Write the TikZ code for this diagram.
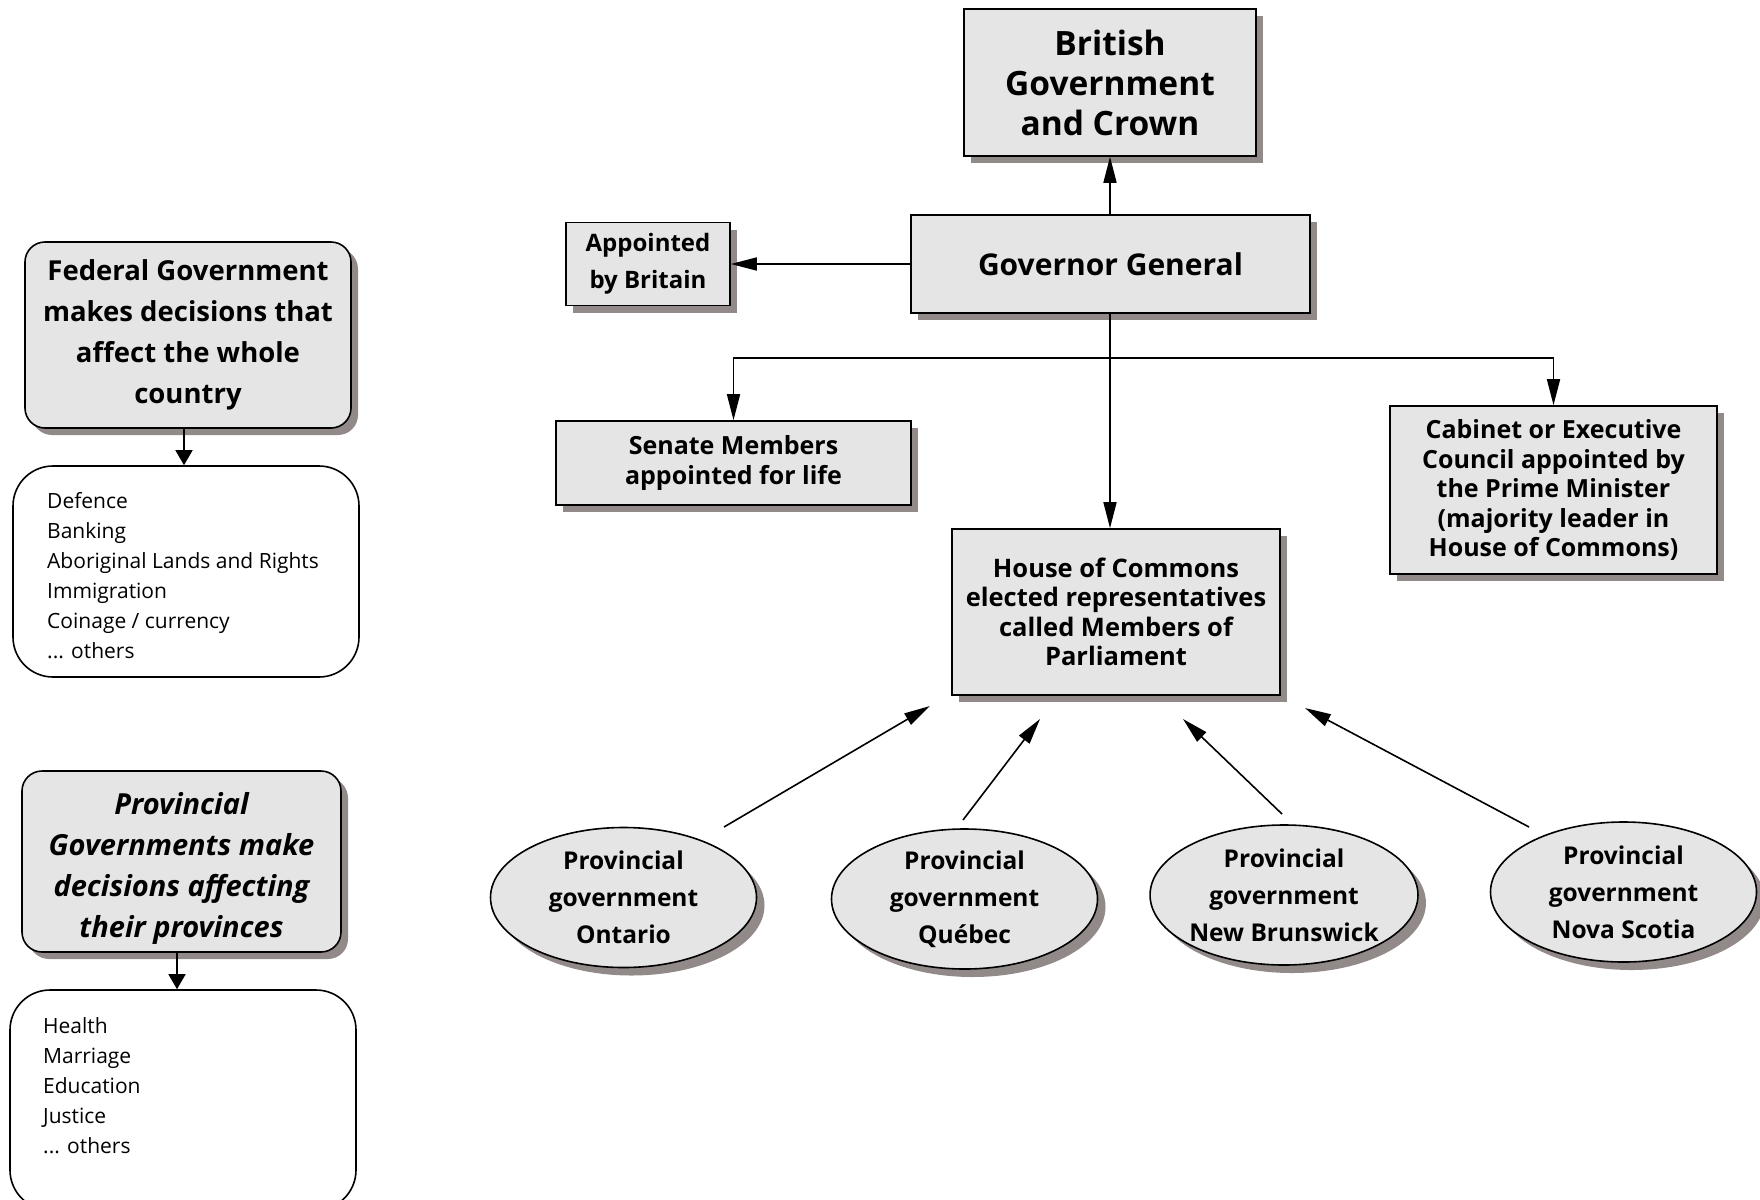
\documentclass[tikz,border=0pt]{standalone}
\usepackage{fontspec}
\setmainfont{Open Sans}
\usetikzlibrary{arrows.meta,shapes.geometric,shadows}
\definecolor{boxfill}{RGB}{230,229,229}
\definecolor{shadowc}{RGB}{146,137,137}
\begin{document}
\begin{tikzpicture}[x=1pt,y=-1pt,
  shad/.style={drop shadow={shadow xshift=#1, shadow yshift=-#1, fill=shadowc, opacity=1}},
  box/.style={draw, line width=1.6pt, fill=boxfill, inner sep=0pt, align=center, shad=7pt},
  rbox/.style={box, rounded corners=20pt, shad=6pt},
  listbox/.style={draw, line width=1.6pt, fill=white, rounded corners=40pt, inner sep=0pt},
  prov/.style={draw, line width=1.6pt, fill=boxfill, ellipse, inner sep=0pt, align=center,
    minimum width=266pt, minimum height=140pt, shad=8pt,
    font=\fontsize{24.5}{37}\selectfont\bfseries},
  arr/.style={line width=1.6pt, -{Triangle[length=26pt,width=13pt]}},
  sarr/.style={line width=1.6pt, -{Triangle[length=15pt,width=17pt]}},
  listtxt/.style={anchor=north west, inner sep=0pt, align=left, font=\fontsize{21}{30}\selectfont}
]
\useasboundingbox (0,0) rectangle (1760,1199);

% right tree
\node[box, minimum width=292pt, minimum height=147pt, font=\fontsize{33.5}{40}\selectfont\bfseries]
  (brit) at (1110,82.5) {British\\Government\\and Crown};
\node[box, minimum width=399pt, minimum height=98pt, font=\fontsize{30}{34}\selectfont\bfseries]
  (gg) at (1110.5,264) {Governor General};
\node[box, minimum width=164pt, minimum height=83pt, font=\fontsize{24}{37}\selectfont\bfseries]
  (appt) at (648,264) {Appointed\\by Britain};
\node[box, minimum width=355pt, minimum height=84pt, font=\fontsize{25}{29.5}\selectfont\bfseries]
  (sen) at (733.5,463) {Senate Members\\appointed for life};
\node[box, minimum width=327pt, minimum height=168pt, font=\fontsize{25}{29.5}\selectfont\bfseries]
  (cab) at (1553.5,490) {Cabinet or Executive\\Council appointed by\\the Prime Minister\\(majority leader in\\House of Commons)};
\node[box, minimum width=328pt, minimum height=166pt, font=\fontsize{25.5}{29.5}\selectfont\bfseries]
  (hoc) at (1116,612) {House of Commons\\elected representatives\\called Members of\\Parliament};

\draw[arr] (gg.north -| brit.south) -- (brit.south);
\draw[arr] (gg.west) -- (appt.east);
\coordinate (br) at (1110,358);
\draw[arr] (gg.south -| br) -- (br |- hoc.north);
\draw[arr] (br) -| (sen.north);
\draw[arr] (br) -| (cab.north);

% provinces
\node[prov] (ont) at (623.5,897.5) {Provincial\\government\\Ontario};
\node[prov] (que) at (964.5,899) {Provincial\\government\\Québec};
\node[prov] (nb) at (1284,895) {Provincial\\government\\New Brunswick};
\node[prov] (ns) at (1623.5,892) {Provincial\\government\\Nova Scotia};

\coordinate (ontS) at (724,827);  \coordinate (ontE) at (930,706);
\coordinate (queS) at (963,820);  \coordinate (queE) at (1040,719);
\coordinate (nbS) at (1282,814);  \coordinate (nbE) at (1183,719);
\coordinate (nsS) at (1529,827);  \coordinate (nsE) at (1305,708);
\draw[arr] (ontS) -- (ontE);
\draw[arr] (queS) -- (queE);
\draw[arr] (nbS) -- (nbE);
\draw[arr] (nsS) -- (nsE);

% left side
\node[rbox, minimum width=326pt, minimum height=186pt, font=\fontsize{27.5}{41}\selectfont\bfseries]
  (fed) at (188,335) {Federal Government\\makes decisions that\\affect the whole\\country};
\node[listbox, minimum width=346pt, minimum height=211pt] (fedlist) at (186,571.5) {};
\node[listtxt] (fedtxt) at (47,492) {Defence\\Banking\\Aboriginal Lands and Rights\\Immigration\\Coinage / currency\\... others};
\draw[sarr] (fed.south -| 184,0) -- (fedlist.north -| 184,0);

\node[rbox, minimum width=319pt, minimum height=181pt, font=\fontsize{29}{41}\selectfont\bfseries\itshape]
  (prv) at (181.5,861.5) {\rule{0pt}{36pt}Provincial\\Governments make\\decisions affecting\\their provinces};
\node[listbox, minimum width=346pt, minimum height=220pt] (prvlist) at (183,1100) {};
\node[listtxt] (prvtxt) at (43,1017) {Health\\Marriage\\Education\\Justice\\... others};
\draw[sarr] (prv.south -| 177,0) -- (prvlist.north -| 177,0);
\end{tikzpicture}
\end{document}
